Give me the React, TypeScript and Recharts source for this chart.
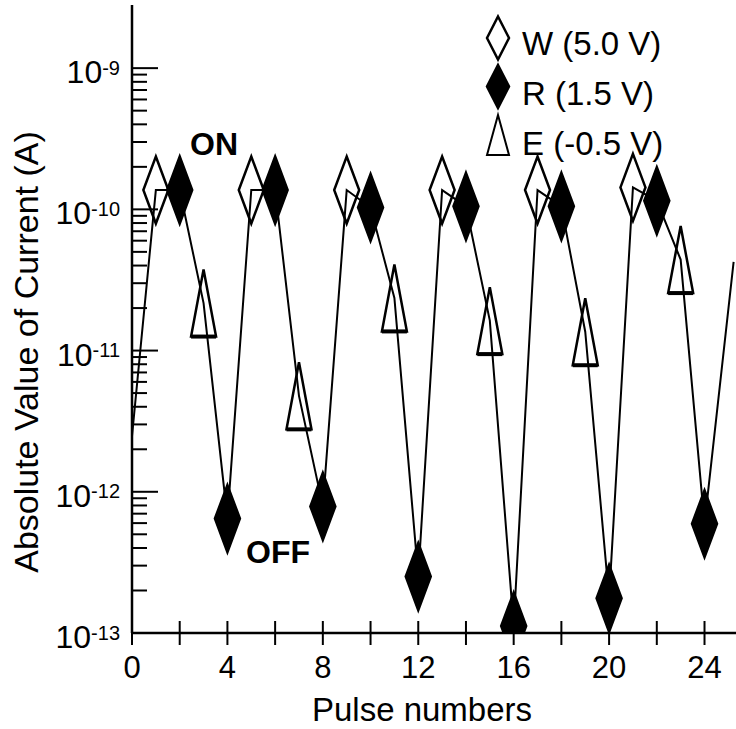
import { Legend, Line, LineChart, ReferenceDot, XAxis, YAxis } from "recharts";

const FONT = "'Liberation Sans', Arial, sans-serif";

// pulse index, pulse type (W = write, R = read, E = erase) and measured current (A)
const pulses = [0, 1, 2, 3, 4, 5, 6, 7, 8, 9, 10, 11, 12, 13, 14, 15, 16, 17, 18, 19, 20, 21, 22, 23, 24, 25.22];
const pulseKinds = ["", "W", "R", "E", "R", "W", "R", "E", "R", "W", "R", "E", "R", "W", "R", "E", "R", "W", "R", "E", "R", "W", "R", "E", "R", ""];
const currents = [
  2.48e-12, 1.37e-10, 1.37e-10, 2.17e-11, 6.46e-13, 1.37e-10, 1.37e-10, 4.78e-12, 7.88e-13,
  1.37e-10, 1.03e-10, 2.36e-11, 2.51e-13, 1.37e-10, 1.05e-10, 1.63e-11, 1.12e-13,
  1.37e-10, 1.05e-10, 1.36e-11, 1.76e-13, 1.43e-10, 1.15e-10, 4.41e-11, 5.94e-13, 4.25e-11,
];

const xTicks = [0, 2, 4, 6, 8, 10, 12, 14, 16, 18, 20, 22, 24];
const xLabelEvery = 4;
const decades = [-13, -12, -11, -10, -9];
const minorSteps = [2, 3, 4, 5, 6, 7, 8, 9];

const legendItems = [
  { kind: "W", label: "W (5.0 V)" },
  { kind: "R", label: "R (1.5 V)" },
  { kind: "E", label: "E (-0.5 V)" },
];

const data = pulses.map((p, i) => ({ pulse: p, current: currents[i], kind: pulseKinds[i] }));

const yTicks: number[] = [];
decades.forEach((d) => {
  yTicks.push(Math.pow(10, d));
  if (d < -9) minorSteps.forEach((m) => yTicks.push(m * Math.pow(10, d)));
});

function Marker({ kind, cx, cy, w, h }: { kind: string; cx: number; cy: number; w: number; h: number }) {
  const hw = w / 2;
  const hh = h / 2;
  if (kind === "W" || kind === "R") {
    const pts = `${cx},${cy - hh} ${cx + hw},${cy} ${cx},${cy + hh} ${cx - hw},${cy}`;
    return (
      <polygon
        points={pts}
        fill={kind === "R" ? "#000" : "none"}
        stroke="#000"
        strokeWidth={2.5}
        strokeLinejoin="miter"
      />
    );
  }
  if (kind === "E") {
    const pts = `${cx},${cy - hh} ${cx + hw},${cy + hh} ${cx - hw},${cy + hh}`;
    return (
      <g>
        <polygon points={pts} fill="none" stroke="#000" strokeWidth={2.5} />
        <line x1={cx - hw} x2={cx + hw} y1={cy + hh} y2={cy + hh} stroke="#000" strokeWidth={4} />
      </g>
    );
  }
  return null;
}

function YTick(props: any) {
  const { x, y, payload } = props;
  const v = payload.value as number;
  const exp = Math.round(Math.log10(v));
  const major = Math.abs(v / Math.pow(10, exp) - 1) < 1e-6;
  return (
    <g>
      <line x1={x} x2={x + (major ? 26 : 15)} y1={y} y2={y} stroke="#000" strokeWidth={2} />
      {major && (
        <text x={x - 12} y={y + 15} textAnchor="end" fontSize={32} fontFamily={FONT} fill="#000">
          10
          <tspan fontSize={20} dy={-8.5}>
            {exp}
          </tspan>
        </text>
      )}
    </g>
  );
}

function XTick(props: any) {
  const { x, y, payload } = props;
  const v = payload.value as number;
  return (
    <g>
      <line x1={x} x2={x} y1={y - 12} y2={y + 12} stroke="#000" strokeWidth={2} />
      {v % xLabelEvery === 0 && (
        <text x={x} y={y + 45} textAnchor="middle" fontSize={31} fontFamily={FONT} fill="#000">
          {v}
        </text>
      )}
    </g>
  );
}

function LegendBox() {
  return (
    <svg width={260} height={170} style={{ display: "block" }}>
      {legendItems.map((item, i) => (
        <g key={item.kind}>
          {item.kind === "E" ? (
            <polygon points="22,115 33,155 11,155" fill="none" stroke="#000" strokeWidth={2} />
          ) : (
            <Marker kind={item.kind} cx={22} cy={38 + i * 48.5} w={22} h={43} />
          )}
          <text x={46} y={55 + i * 50} fontSize={33} fontFamily={FONT} fill="#000">
            {item.label}
          </text>
        </g>
      ))}
    </svg>
  );
}

const annot = (text: string) => (p: any) => {
  const vb = p.viewBox || { x: 0, y: 0, width: 0, height: 0 };
  return (
    <text
      x={vb.x + (vb.width || 0) / 2}
      y={vb.y + (vb.height || 0) / 2}
      textAnchor="middle"
      dominantBaseline="central"
      fontSize={32}
      fontWeight={700}
      fontFamily={FONT}
      fill="#000"
    >
      {text}
    </text>
  );
};

export default function App() {
  return (
    <div style={{ position: "absolute", left: 0, top: 0, width: 736, height: 729, background: "#fff" }}>
      <LineChart width={736} height={729} data={data} margin={{ top: 5, right: 0, bottom: 0, left: 0 }}>
        <XAxis
          dataKey="pulse"
          type="number"
          domain={[0, 25.32]}
          ticks={xTicks}
          interval={0}
          tickSize={0}
          tickMargin={0}
          tick={<XTick />}
          height={96}
          axisLine={{ stroke: "#000", strokeWidth: 2.5 }}
          allowDataOverflow
          label={{
            content: () => (
              <text x={422} y={721} textAnchor="middle" fontSize={33} fontFamily={FONT} fill="#000">
                Pulse numbers
              </text>
            ),
          }}
        />
        <YAxis
          dataKey="current"
          scale="log"
          type="number"
          domain={[1e-13, 2.8e-9]}
          ticks={yTicks}
          interval={0}
          tickSize={0}
          tickMargin={0}
          tick={<YTick />}
          width={132}
          axisLine={{ stroke: "#000", strokeWidth: 2.5 }}
          allowDataOverflow
          label={{
            content: () => (
              <text
                transform="translate(38, 352) rotate(-90)"
                textAnchor="middle"
                fontSize={34}
                fontFamily={FONT}
                fill="#000"
              >
                Absolute Value of Current (A)
              </text>
            ),
          }}
        />
        <Line
          dataKey="current"
          type="linear"
          stroke="#000"
          strokeWidth={2}
          isAnimationActive={false}
          dot={(p: any) => (
            <g key={`m-${p.index}`}>
              <Marker kind={pulseKinds[p.index]} cx={p.cx} cy={p.cy} w={25} h={67} />
            </g>
          )}
          activeDot={false}
        />
        <ReferenceDot x={3.44} y={2.88e-10} r={1} fill="none" stroke="none" label={{ content: annot("ON") }} />
        <ReferenceDot x={6.12} y={3.76e-13} r={1} fill="none" stroke="none" label={{ content: annot("OFF") }} />
        <Legend
          layout="horizontal"
          verticalAlign="middle"
          align="center"
          content={() => <LegendBox />}
          wrapperStyle={{ position: "absolute", left: 476, top: 0, width: 260, height: 170 }}
        />
      </LineChart>
    </div>
  );
}
